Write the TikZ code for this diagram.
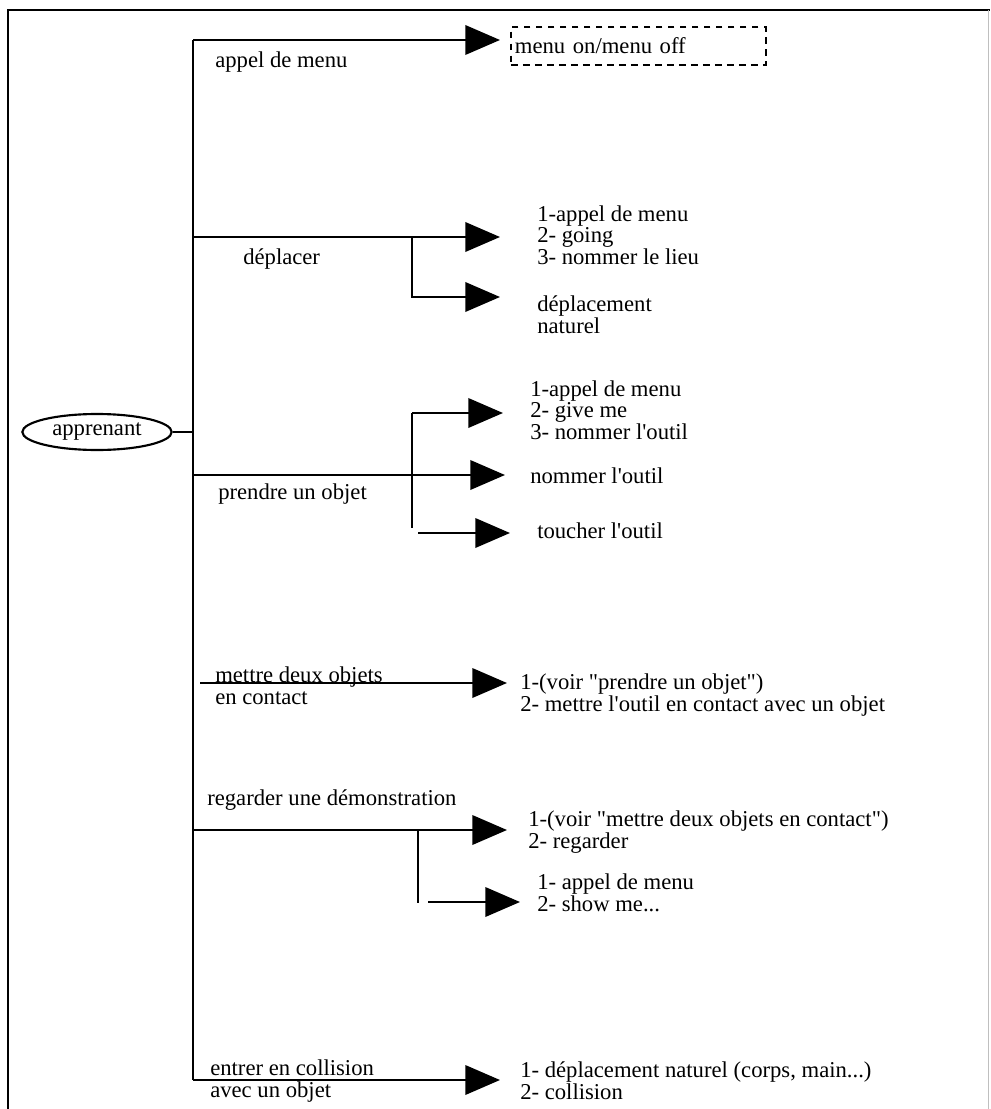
\documentclass[tikz,border=0pt]{standalone}
\usepackage{fontspec}
\setmainfont[Ligatures=TeXOff]{Liberation Serif}
\usetikzlibrary{arrows.meta,shapes.geometric}
\begin{document}
\begin{tikzpicture}[x=0.75pt,y=-0.75pt,
  wire/.style={line width=1.9pt},
  arr/.style={wire,-{Triangle[length=26pt,width=22pt]}},
  txt/.style={anchor=west,inner sep=0pt,align=left,
    font=\fontsize{17}{16.2}\selectfont},
  rootnode/.style={ellipse,draw,line width=1.6pt,minimum width=112pt,
    minimum height=27pt,inner sep=0pt,font=\fontsize{17}{16.2}\selectfont},
  dashbox/.style={draw,dashed,line width=1.4pt,dash pattern=on 5pt off 4pt,
    anchor=west,minimum width=191pt,minimum height=28.5pt,inner sep=3pt,
    text width=185pt,align=left,font=\fontsize{17}{16.2}\selectfont}]
\useasboundingbox (0,0) rectangle (990,1109);

% frame
\draw[line width=1.6pt] (8,1109) -- (8,10) -- (990,10);
\draw[line width=0.4pt,black!25] (988,10) -- (988,1109);

% root
\node[rootnode] (root) at (97,432) {apprenant};

% junctions on the trunk
\coordinate (j1) at (193,40);
\coordinate (j2) at (193,237);
\coordinate (jr) at (193,432);
\coordinate (j3) at (193,475);
\coordinate (j4) at (200,683);
\coordinate (j5) at (193,830);
\coordinate (j6) at (193,1080);

% trunk
\draw[wire] (j1) -- (j6);
\draw[wire] (root.east) -- (jr);

% appel de menu
\node[txt] (l1) at (215,62) {appel de menu};
\node[dashbox] (b1) at (510,46) {menu on/menu off};
\coordinate (t1) at (500,40);
\draw[arr] (j1) -- (t1);

% deplacer
\node[txt] (l2) at (243,259) {déplacer};
\node[txt] (tA) at (537,235) {1-appel de menu\\2- going\\3- nommer le lieu};
\node[txt] (tB) at (537,315) {déplacement\\naturel};
\coordinate (t2) at (500,237);
\coordinate (s2) at (412,237);
\coordinate (s2b) at (412,297);
\coordinate (t2b) at (500,297);
\draw[arr] (j2) -- (t2);
\draw[arr] (s2) -- (s2b) -- (t2b);

% prendre un objet
\node[txt] (l3) at (218,494) {prendre un objet};
\node[txt] (tC) at (530,410) {1-appel de menu\\2- give me\\3- nommer l'outil};
\node[txt] (tD) at (530,476) {nommer l'outil};
\node[txt] (tE) at (537,531) {toucher l'outil};
\coordinate (t3) at (505,475);
\coordinate (s3a) at (412,413);
\coordinate (s3b) at (412,528);
\coordinate (t3a) at (503,413);
\coordinate (s3c) at (418,533);
\coordinate (t3c) at (510,533);
\draw[arr] (j3) -- (t3);
\draw[wire] (s3a) -- (s3b);
\draw[arr] (s3a) -- (t3a);
\draw[arr] (s3c) -- (t3c);

% mettre deux objets en contact
\node[txt] (l4) at (215,686) {mettre deux objets\\en contact};
\node[txt] (tF) at (520,695) {1-(voir "prendre un objet")\\2- mettre l'outil en contact avec un objet};
\coordinate (t4) at (507,683);
\draw[arr] (j4) -- (t4);

% regarder une demonstration
\node[txt] (l5) at (207,800) {regarder une démonstration};
\node[txt] (tG) at (528,832) {1-(voir "mettre deux objets en contact")\\2- regarder};
\node[txt] (tH) at (537,893) {1- appel de menu\\2- show me...};
\coordinate (t5) at (507,830);
\coordinate (s5a) at (418,830);
\coordinate (s5b) at (418,903);
\coordinate (s5c) at (428,902);
\coordinate (t5c) at (520,902);
\draw[arr] (j5) -- (t5);
\draw[wire] (s5a) -- (s5b);
\draw[arr] (s5c) -- (t5c);

% entrer en collision
\node[txt] (l6) at (210,1081) {entrer en collision\\avec un objet};
\node[txt] (tI) at (520,1081) {1- déplacement naturel (corps, main...)\\2- collision};
\coordinate (t6) at (500,1080);
\draw[arr] (j6) -- (t6);
\end{tikzpicture}
\end{document}
